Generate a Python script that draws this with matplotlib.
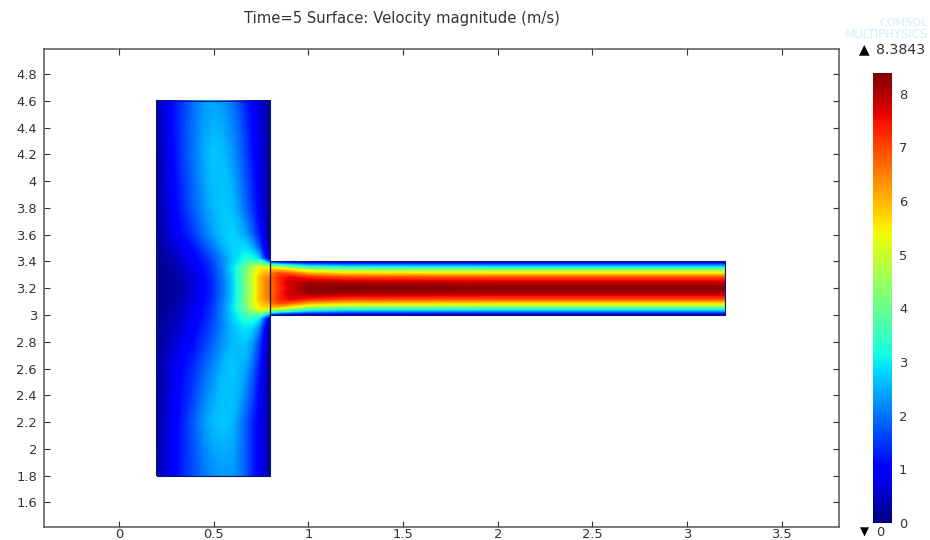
import numpy as np
import matplotlib
matplotlib.use("Agg")
import matplotlib.pyplot as plt
from matplotlib.cm import ScalarMappable
from matplotlib.colors import Normalize

v_max = 8.3843
title = "Time=5 Surface: Velocity magnitude (m/s)"
x_ticks = [0, 0.5, 1, 1.5, 2, 2.5, 3, 3.5]
x_labels = ["0", "0.5", "1", "1.5", "2", "2.5", "3", "3.5"]
y_ticks = [1.6, 1.8, 2, 2.2, 2.4, 2.6, 2.8, 3, 3.2, 3.4, 3.6, 3.8, 4, 4.2, 4.4, 4.6, 4.8]
y_labels = ["1.6", "1.8", "2", "2.2", "2.4", "2.6", "2.8", "3", "3.2", "3.4", "3.6", "3.8", "4", "4.2", "4.4", "4.6", "4.8"]
cbar_ticks = [0, 1, 2, 3, 4, 5, 6, 7, 8]

# vertical channel, values
vert_x = [0.2, 0.23, 0.27, 0.32, 0.4, 0.45, 0.5, 0.55, 0.6, 0.66, 0.7, 0.74, 0.78, 0.8]
vert_y = [1.8, 2.2, 2.6, 2.8, 2.9, 2.98, 3.05, 3.12, 3.2, 3.28, 3.35, 3.42, 3.5, 3.6, 3.8, 4.2, 4.6]
vert_speed = [
    [0.3, 0.5, 0.85, 1.2, 1.7, 2.0, 2.2, 2.3, 2.3, 1.9, 1.4, 0.9, 0.4, 0.2],
    [0.2, 0.45, 0.8, 1.15, 1.85, 2.3, 2.6, 2.7, 2.55, 1.9, 1.4, 0.9, 0.35, 0.1],
    [0.2, 0.35, 0.65, 1.0, 1.45, 1.85, 2.2, 2.55, 2.7, 2.45, 1.95, 1.2, 0.35, 0.1],
    [0.15, 0.3, 0.5, 0.75, 1.15, 1.5, 1.85, 2.25, 2.6, 2.7, 2.4, 1.6, 0.45, 0.1],
    [0.1, 0.25, 0.4, 0.6, 1.0, 1.35, 1.7, 2.15, 2.6, 2.9, 2.8, 2.1, 0.6, 0.15],
    [0.1, 0.2, 0.35, 0.5, 0.9, 1.2, 1.6, 2.15, 2.75, 3.3, 3.4, 3.0, 1.2, 0.5],
    [0.1, 0.15, 0.25, 0.45, 0.8, 1.15, 1.55, 2.15, 2.85, 3.9, 4.7, 5.4, 5.6, 5.0],
    [0.1, 0.15, 0.2, 0.35, 0.7, 1.05, 1.45, 2.05, 2.75, 3.95, 4.85, 5.9, 6.4, 6.6],
    [0.1, 0.15, 0.2, 0.3, 0.65, 1.0, 1.4, 2.0, 2.7, 3.85, 4.75, 5.8, 6.5, 6.7],
    [0.1, 0.15, 0.2, 0.35, 0.7, 1.05, 1.45, 2.05, 2.75, 3.95, 4.85, 5.9, 6.4, 6.6],
    [0.1, 0.15, 0.25, 0.45, 0.8, 1.15, 1.55, 2.15, 2.85, 3.9, 4.7, 5.4, 5.6, 5.0],
    [0.1, 0.2, 0.35, 0.55, 0.95, 1.3, 1.7, 2.2, 2.7, 3.2, 3.3, 2.8, 1.0, 0.3],
    [0.15, 0.3, 0.5, 0.75, 1.2, 1.6, 2.0, 2.45, 2.8, 2.9, 2.6, 1.8, 0.5, 0.15],
    [0.2, 0.35, 0.65, 1.0, 1.55, 1.95, 2.35, 2.65, 2.8, 2.45, 1.95, 1.25, 0.35, 0.1],
    [0.25, 0.45, 0.8, 1.2, 1.85, 2.25, 2.55, 2.7, 2.6, 2.0, 1.5, 0.95, 0.3, 0.1],
    [0.25, 0.5, 0.9, 1.4, 2.05, 2.45, 2.7, 2.6, 2.3, 1.7, 1.2, 0.8, 0.3, 0.1],
    [0.35, 0.6, 1.0, 1.4, 2.0, 2.3, 2.4, 2.25, 2.0, 1.4, 1.0, 0.65, 0.3, 0.2],
]

# horizontal channel
horiz_x = [0.8, 0.85, 0.9, 1.0, 1.2, 2.0, 3.2]
horiz_y = [3.0, 3.03, 3.06, 3.09, 3.12, 3.16, 3.2, 3.24, 3.28, 3.31, 3.34, 3.37, 3.4]
horiz_speed = [
    [1.0, 0.3, 0.2, 0.2, 0.2, 0.2, 0.2],
    [4.0, 3.6, 3.3, 2.6, 2.3, 2.2, 2.2],
    [6.0, 5.8, 5.4, 4.6, 4.2, 4.1, 4.1],
    [6.5, 7.0, 6.8, 6.1, 5.7, 5.6, 5.6],
    [6.6, 7.3, 7.6, 7.3, 7.0, 6.9, 6.9],
    [6.6, 7.3, 7.8, 8.1, 8.0, 7.9, 7.9],
    [6.6, 7.2, 7.7, 8.3, 8.38, 8.3, 8.3],
    [6.6, 7.3, 7.8, 8.1, 8.0, 7.9, 7.9],
    [6.6, 7.3, 7.6, 7.3, 7.0, 6.9, 6.9],
    [6.5, 7.0, 6.8, 6.1, 5.7, 5.6, 5.6],
    [6.0, 5.8, 5.4, 4.6, 4.2, 4.1, 4.1],
    [4.0, 3.6, 3.3, 2.6, 2.3, 2.2, 2.2],
    [1.0, 0.3, 0.2, 0.2, 0.2, 0.2, 0.2],
]

W, H = 930, 540
ink = "#333333"
plt.rcParams['font.family'] = ['DejaVu Sans']
plt.rcParams['font.size'] = 9.4

fig = plt.figure(figsize=(W / 100, H / 100), dpi=100)
ax = fig.add_axes([44 / W, 1 - 527 / H, 795 / W, 478 / H])

levels = np.linspace(0, v_max, 257)
ax.contourf(vert_x, vert_y, vert_speed, levels=levels, cmap="jet", vmin=0, vmax=v_max)
ax.contourf(horiz_x, horiz_y, horiz_speed, levels=levels, cmap="jet", vmin=0, vmax=v_max)

# channel walls
wall = "#0a1a70"
ax.plot([0.8, 0.8, 0.2, 0.2, 0.8, 0.8], [3.4, 4.6, 4.6, 1.8, 1.8, 3.0], color=wall, lw=0.8)
ax.plot([0.8, 3.2, 3.2, 0.8], [3.4, 3.4, 3.0, 3.0], color=wall, lw=0.8)
ax.plot([0.8, 0.8], [3.0, 3.4], color="#111111", lw=0.9)

ax.set_xlim(-0.396, 3.803)
ax.set_ylim(1.417, 4.987)
ax.set_xticks(x_ticks)
ax.set_xticklabels(x_labels)
ax.set_yticks(y_ticks)
ax.set_yticklabels(y_labels)
ax.tick_params(direction="in", top=True, right=True, length=4, width=0.8, color="#333333", labelcolor=ink)
ax.tick_params(axis="y", pad=5)
ax.tick_params(axis="x", pad=1)
for side in ax.spines:
    ax.spines[side].set_color("#555555")
    ax.spines[side].set_linewidth(1.1)

fig.text(402 / W, 1 - 19 / H, title, ha="center", va="center", color=ink, fontsize=10.6)

# colour bar with its limits
cax = fig.add_axes([873 / W, 1 - 523 / H, 19 / W, 450 / H])
cbar = fig.colorbar(ScalarMappable(Normalize(0, v_max), cmap="jet"), cax=cax, ticks=cbar_ticks)
cbar.outline.set_visible(False)
cbar.ax.tick_params(length=0, pad=5, labelcolor=ink)

fig.text(864 / W, 1 - 49 / H, "▲", ha="center", va="center", color="black", fontsize=10)
fig.text(876 / W, 1 - 50 / H, "8.3843", ha="left", va="center", color=ink, fontsize=10.2)
fig.text(864 / W, 1 - 532 / H, "▼", ha="center", va="center", color="black", fontsize=8.5)
fig.text(876 / W, 1 - 533 / H, "0", ha="left", va="center", color=ink)

# faded logo top right
fig.text(928 / W, 1 - 23 / H, "COMSOL", ha="right", va="center", color="#d3eefa", fontsize=8)
fig.text(928 / W, 1 - 35 / H, "MULTIPHYSICS", ha="right", va="center", color="#d3eefa", fontsize=8.5)

fig.savefig("out.png", dpi=100)
